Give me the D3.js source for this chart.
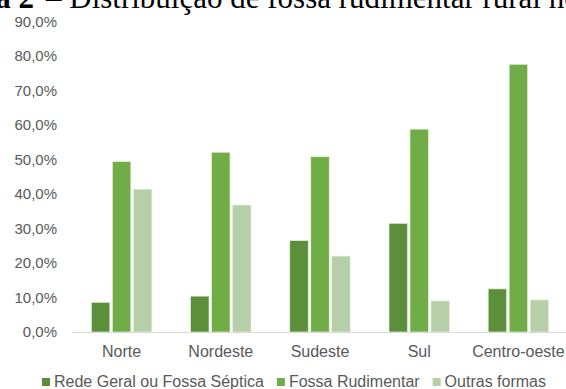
<!DOCTYPE html>
<html>
<head>
<meta charset="utf-8">
<script src="https://cdn.jsdelivr.net/npm/d3@7"></script>
<style>
  body { margin: 0; background: #fff; }
  text { font-family: 'Liberation Sans', Arial, sans-serif; }
</style>
</head>
<body>
<svg width="566" height="389"></svg>
<script>
const regions = ['Norte', 'Nordeste', 'Sudeste', 'Sul', 'Centro-oeste'];
const seriesNames = ['Rede Geral ou Fossa Séptica', 'Fossa Rudimentar', 'Outras formas'];
const redeGeral = [8.6, 10.4, 26.5, 31.5, 12.5];
const fossaRudimentar = [49.4, 52.1, 50.8, 58.8, 77.6];
const outrasFormas = [41.4, 36.8, 22.0, 9.0, 9.3];
const yTicks = [0, 10, 20, 30, 40, 50, 60, 70, 80, 90];
const colors = ['#5b8f3a', '#71ad47', '#b6cfa8'];

const series = [redeGeral, fossaRudimentar, outrasFormas];

const svg = d3.select('svg');

// title, cut off at the top like in the picture
svg.append('text')
    .attr('x', 34)
    .attr('y', 8)
    .attr('text-anchor', 'end')
    .style('font-family', "'Liberation Serif', 'Times New Roman', serif")
    .style('font-weight', 'bold')
    .style('font-size', '31px')
    .text('Tabela 2')

svg.append('text')
    .attr('x', 46)
    .attr('y', 8)
    .style('font-family', "'Liberation Serif', 'Times New Roman', serif")
    .style('font-size', '31px')
    .text('– Distribuição de fossa rudimentar rural no Brasil')

const x = d3.scaleBand()
    .domain(regions)
    .range([72, 568])
    .paddingInner(0.34)
    .paddingOuter(0.17);

const x1 = d3.scaleBand()
    .domain(d3.range(3))
    .range([0, x.bandwidth()])
    .padding(0.12);

const y = d3.scaleLinear()
    .domain([0, 90])
    .range([332, 21.5]);

const yAxis = svg.append('g')
    .attr('transform', 'translate(60, 0)')
    .call(d3.axisLeft(y).tickValues(yTicks).tickSize(0)
        .tickFormat(d => d3.format('.1f')(d).replace('.', ',') + '%'));
yAxis.select('.domain').remove();
yAxis.selectAll('text')
    .attr('x', -3)
    .style('font-size', '15px')
    .attr('fill', '#595959');

const groups = svg.append('g')
    .selectAll('g')
    .data(regions)
    .join('g')
    .attr('transform', d => `translate(${ x(d) }, 0)`);

groups.selectAll('rect')
    .data((d, i) => series.map((s, k) => ({ k, v: s[i] })))
    .join('rect')
    .attr('x', d => x1(d.k))
    .attr('width', x1.bandwidth())
    .attr('y', d => y(d.v))
    .attr('height', d => y(0) - y(d.v))
    .attr('fill', d => colors[d.k])
    .attr('stroke', '#e6efe0')
    .attr('stroke-width', 0.7);

svg.append('line')
    .attr('x1', 72)
    .attr('x2', 566)
    .attr('y1', y(0) + 0.5)
    .attr('y2', y(0) + 0.5)
    .attr('stroke', '#d9d9d9');

const xAxis = svg.append('g')
    .attr('transform', `translate(0, ${ y(0) })`)
    .call(d3.axisBottom(x).tickSize(0).tickPadding(14));
xAxis.select('.domain').remove();
xAxis.selectAll('text')
    .style('font-size', '16px')
    .attr('fill', '#595959');

// legend
const legend = svg.append('g')
    .attr('transform', 'translate(0, 387)');

let lx = 42;
seriesNames.forEach((name, i) => {
    legend.append('rect')
        .attr('x', lx)
        .attr('y', -9)
        .attr('width', 8)
        .attr('height', 8)
        .attr('fill', colors[i]);
    const t = legend.append('text')
        .attr('x', lx + 12)
        .attr('y', 0)
        .style('font-size', '16px')
        .attr('fill', '#595959')
        .text(name);
    lx += 12 + t.node().getComputedTextLength() + 13;
});
</script>
</body>
</html>
